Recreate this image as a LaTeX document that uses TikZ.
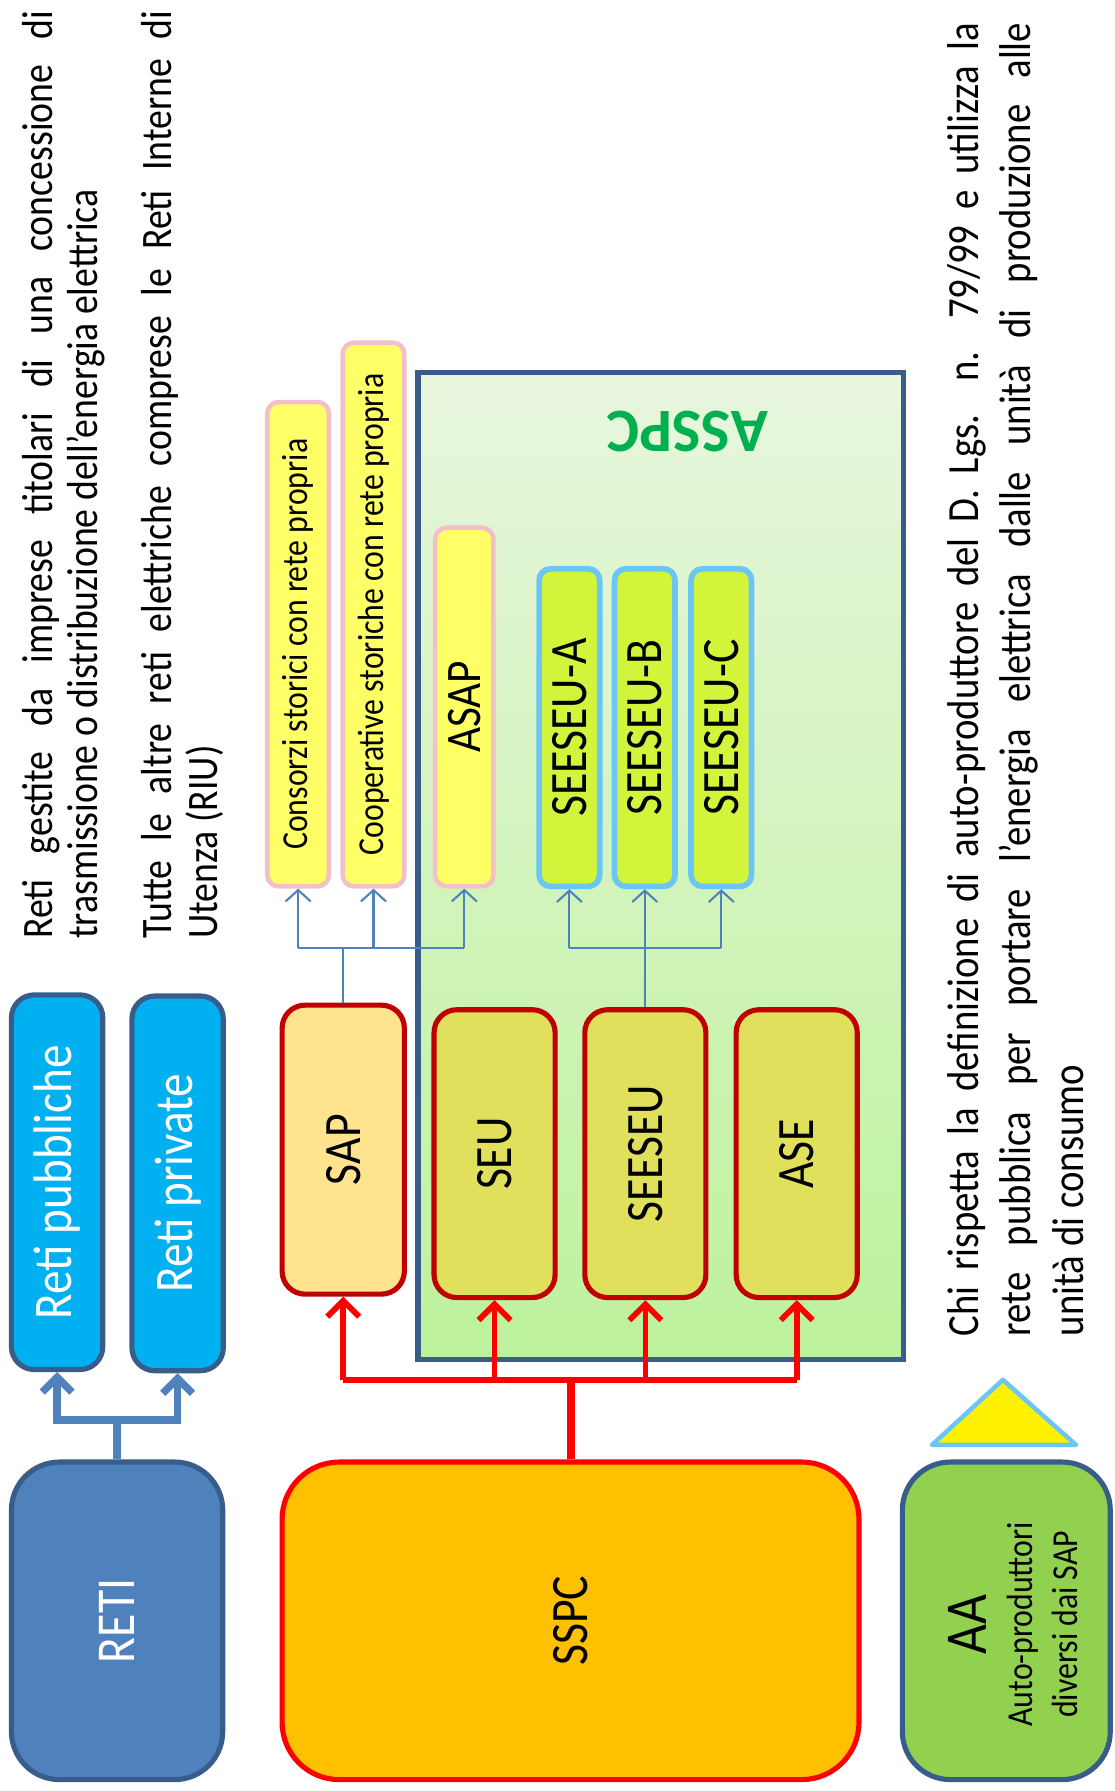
\documentclass[tikz,border=0pt]{standalone}
\usepackage{fontspec}
\setmainfont{Carlito}[FakeStretch=0.87]
\newfontfamily\wideff{Carlito}
\usetikzlibrary{arrows.meta}
\definecolor{retiblue}{HTML}{4F81BD}
\definecolor{darkblue}{HTML}{385D8A}
\definecolor{cyanbox}{HTML}{00B0F0}
\definecolor{sspcfill}{HTML}{FFC000}
\definecolor{sapfill}{HTML}{FFE38F}
\definecolor{seufill}{HTML}{E0E05C}
\definecolor{darkred}{HTML}{C00000}
\definecolor{ylw}{HTML}{FFFF66}
\definecolor{pinkb}{HTML}{F4C0C8}
\definecolor{limefill}{HTML}{D2F53C}
\definecolor{lightblueb}{HTML}{6CC6F5}
\definecolor{aafill}{HTML}{92D050}
\definecolor{asspcgreen}{HTML}{00B050}
\definecolor{asspctop}{HTML}{E8F6DE}
\definecolor{asspcbot}{HTML}{BDF29C}
\newcommand\myfs[2]{\fontsize{#1}{#2}\selectfont}
\begin{document}
\begin{tikzpicture}[x=1pt,y=-1pt,
  box/.style={draw, inner sep=0pt, line width=4.5pt},
  bigbox/.style={box, rounded corners=42pt},
  midbox/.style={box, rounded corners=20pt},
  thinbox/.style={box, rounded corners=10pt},
  retibox/.style={bigbox, fill=retiblue, draw=darkblue, text=white, font=\myfs{48}{54}},
  cyanstyle/.style={midbox, fill=cyanbox, draw=darkblue, text=white, font=\myfs{47.5}{54}},
  sapstyle/.style={midbox, fill=sapfill, draw=darkred, font=\myfs{46}{52}},
  seustyle/.style={midbox, fill=seufill, draw=darkred, font=\myfs{46}{52}},
  ylwstyle/.style={thinbox, fill=ylw, draw=pinkb, line width=4pt},
  limestyle/.style={thinbox, fill=limefill, draw=lightblueb, line width=5pt, font=\myfs{46}{52}},
  heavyblue/.style={draw=retiblue, line width=6.5pt},
  heavyarrow/.style={-{Straight Barb[length=13pt,width=26pt]}},
  redline/.style={draw=red, line width=5pt},
  redarrow/.style={-{Straight Barb[length=14pt,width=28pt]}},
  thinblue/.style={draw=retiblue, line width=1.8pt},
  thinarrow/.style={-{Straight Barb[length=10pt,width=22pt]}},
  txt/.style={rotate=90, anchor=north west, inner sep=0pt, align=left}
]
\useasboundingbox (0,0) rectangle (976,1568);

% texts
\node[txt, font=\myfs{38}{39}] (txta) at (19.5,822)
  {\makebox[812pt][s]{Reti gestite da imprese titolari di una concessione di}\\
   trasmissione o distribuzione dell’energia elettrica};
\node[txt, font=\myfs{38}{40}] (txtb) at (123.5,822)
  {\makebox[812pt][s]{Tutte le altre reti elettriche comprese le Reti Interne di}\\
   Utenza (RIU)};
\node[txt, font=\myfs{39}{46}] (txtc) at (829,1170)
  {\makebox[1150pt][s]{Chi rispetta la definizione di auto-produttore del D. Lgs. n. 79/99 e utilizza la}\\
   \makebox[1150pt][s]{rete pubblica per portare l’energia elettrica dalle unità di produzione alle}\\
   unità di consumo};

% RETI
\node[retibox, minimum width=185pt, minimum height=278pt] (reti) at (102.5,1419) {\rotatebox{90}{RETI}};
\node[cyanstyle, minimum width=80pt, minimum height=328pt] (pubbl) at (50,1035) {\rotatebox{90}{Reti pubbliche}};
\node[cyanstyle, minimum width=80pt, minimum height=328pt] (priv) at (155.5,1036) {\rotatebox{90}{Reti private}};
\coordinate (hb) at (0,1243);
\draw[heavyblue] (reti.north) -- (reti.north |- hb);
\draw[heavyblue, heavyarrow] (reti.north |- hb) -| (pubbl.south);
\draw[heavyblue, heavyarrow] (reti.north |- hb) -| (priv.south);

% ASSPC container
\node[draw=darkblue, line width=4.5pt, top color=asspctop, bottom color=asspcbot,
      inner sep=0pt, minimum width=425pt, minimum height=864pt] (asspc) at (578.5,758) {};
\node[rotate=180, text=asspcgreen, font=\wideff\myfs{54}{60}\bfseries] (asspclbl) at (602,378) {ASSPC};

% SSPC and children
\node[bigbox, rounded corners=50pt, fill=sspcfill, draw=red, minimum width=505pt, minimum height=278pt, font=\myfs{46}{52}] (sspc) at (499.5,1419) {\rotatebox{90}{SSPC}};
\node[sapstyle, minimum width=107pt, minimum height=253pt] (sap) at (300.5,1006.5) {\rotatebox{90}{SAP}};
\node[seustyle, minimum width=106pt, minimum height=252pt] (seu) at (433,1010) {\rotatebox{90}{SEU}};
\node[seustyle, minimum width=106pt, minimum height=252pt] (seeseu) at (565,1010) {\rotatebox{90}{SEESEU}};
\node[seustyle, minimum width=106pt, minimum height=252pt] (ase) at (697.5,1010) {\rotatebox{90}{ASE}};

\coordinate (hr) at (0,1208);
\draw[redline, line width=7pt] (sspc.north) -- (sspc.north |- hr);
\draw[redline] (sap.south |- hr) -- (ase.south |- hr);
\foreach \n in {sap,seu,seeseu,ase}
  \draw[redline, redarrow] (\n.south |- hr) -- (\n.south);

% yellow boxes
\node[ylwstyle, minimum width=54pt, minimum height=424pt, font=\myfs{32}{36}] (cons) at (261,564) {\rotatebox{90}{Consorzi storici con rete propria}};
\node[ylwstyle, minimum width=54pt, minimum height=476pt, font=\myfs{32}{36}] (coop) at (327,538) {\rotatebox{90}{Cooperative storiche con rete propria}};
\node[ylwstyle, minimum width=51pt, minimum height=314pt, font=\myfs{43.5}{48}] (asap) at (406.5,619) {\rotatebox{90}{ASAP}};

% lime boxes
\node[limestyle, minimum width=53pt, minimum height=278pt] (sa) at (498.5,637) {\rotatebox{90}{SEESEU-A}};
\node[limestyle, minimum width=53pt, minimum height=278pt] (sb) at (564.5,637) {\rotatebox{90}{SEESEU-B}};
\node[limestyle, minimum width=53pt, minimum height=278pt] (sc) at (631.5,637) {\rotatebox{90}{SEESEU-C}};

\coordinate (ht) at (0,830);
\draw[thinblue] (sap.north) -- (sap.north |- ht);
\draw[thinblue] (cons.south |- ht) -- (asap.south |- ht);
\foreach \n in {cons,coop,asap}
  \draw[thinblue, thinarrow] (\n.south |- ht) -- (\n.south);
\draw[thinblue] (seeseu.north) -- (seeseu.north |- ht);
\draw[thinblue] (sa.south |- ht) -- (sc.south |- ht);
\foreach \n in {sa,sb,sc}
  \draw[thinblue, thinarrow] (\n.south |- ht) -- (\n.south);

% AA
\draw[fill=yellow, draw=lightblueb, line width=4pt, line join=round] (878,1208) -- (942,1265) -- (816,1265) -- cycle;
\node[bigbox, fill=aafill, draw=darkblue, minimum width=182pt, minimum height=278pt] (aa) at (881,1419) {};
\node[inner sep=0pt, font=\myfs{32}{40}] (aatext) at (893,1422)
  {\rotatebox{90}{\begin{tabular}{@{}c@{}}{\myfs{52}{40}AA}\\Auto-produttori\\diversi dai SAP\end{tabular}}};
\end{tikzpicture}
\end{document}
